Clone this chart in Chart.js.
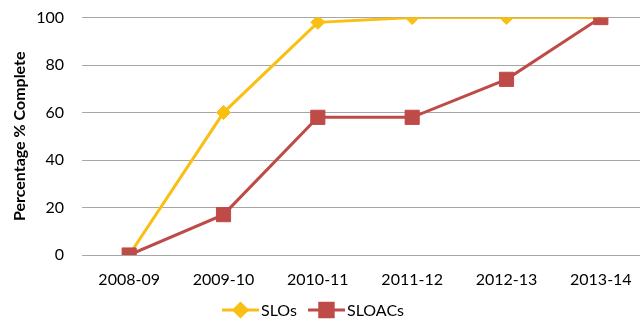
<!DOCTYPE html>
<html>
<head>
<meta charset="utf-8">
<script src="https://cdn.jsdelivr.net/npm/chart.js@4"></script>
<style>
  html, body { margin: 0; padding: 0; background: #fff; overflow: hidden; }
  #wrap { width: 659px; height: 339px; margin-top: -10px; }
</style>
</head>
<body>
<div id="wrap"><canvas id="c" width="659" height="339"></canvas></div>
<script>
// Academic years on the category axis
const years = ['2008-09', '2009-10', '2010-11', '2011-12', '2012-13', '2013-14'];
// Percentage complete per year
const sloValues = [0, 60, 98, 100, 100, 100];
const sloacValues = [0, 17, 58, 58, 74, 100];
// Value axis ticks
const yTicks = [0, 20, 40, 60, 80, 100];

const FONT = "Lato, 'Open Sans', 'Liberation Sans', sans-serif";
const GOLD = '#F9BF12';
const RED = '#BE4B48';

// Legend drawn as line-with-marker samples under the axis
const lineLegend = {
  id: 'lineLegend',
  afterDraw(chart) {
    const ctx = chart.ctx;
    const items = [chart.data.datasets[0], chart.data.datasets[1]];
    const y = chart.height - 19;
    ctx.save();
    ctx.font = '16px ' + FONT;
    ctx.textBaseline = 'middle';
    const sampleW = 37, gap = 2, between = 11;
    const widths = items.map(d => sampleW + gap + ctx.measureText(d.label).width);
    const total = widths.reduce((a, b) => a + b, 0) + between;
    let x = 313 - total / 2;
    items.forEach((d, i) => {
      ctx.strokeStyle = d.borderColor;
      ctx.lineWidth = 3;
      ctx.beginPath();
      ctx.moveTo(x, y);
      ctx.lineTo(x + sampleW, y);
      ctx.stroke();
      ctx.fillStyle = d.backgroundColor;
      ctx.strokeStyle = d.borderColor;
      Chart.helpers.drawPoint(ctx, {
        pointStyle: d.pointStyle,
        radius: d.pointStyle === 'rect' ? 9.5 : 6.5,
        borderWidth: 1
      }, x + sampleW / 2, y);
      ctx.fillStyle = '#000';
      ctx.fillText(d.label, x + sampleW + gap, y + 1);
      x += widths[i] + between;
    });
    ctx.restore();
  }
};

new Chart(document.getElementById('c'), {
  type: 'line',
  data: {
    labels: years,
    datasets: [
      {
        label: 'SLOs',
        data: sloValues,
        borderColor: GOLD,
        backgroundColor: GOLD,
        borderWidth: 3,
        pointStyle: 'rectRot',
        pointRadius: 7,
        pointBorderWidth: 1,
        tension: 0,
        order: 1
      },
      {
        label: 'SLOACs',
        data: sloacValues,
        borderColor: RED,
        backgroundColor: RED,
        borderWidth: 3,
        pointStyle: 'rect',
        pointRadius: 10,
        pointBorderWidth: 1,
        tension: 0,
        order: 0
      }
    ]
  },
  options: {
    responsive: false,
    animation: false,
    layout: { padding: { top: 0, right: 0, bottom: 0, left: 0 } },
    plugins: {
      legend: { display: false },
      tooltip: { enabled: false }
    },
    scales: {
      x: {
        offset: true,
        grid: { display: false, drawTicks: false },
        border: { display: false },
        ticks: { color: '#000', font: { family: FONT, size: 16 }, padding: 15, maxRotation: 0 },
        afterFit(scale) {
          scale.height = 74;
          scale.paddingLeft = 0;
          scale.paddingRight = 0;
        }
      },
      y: {
        min: 0,
        max: 100,
        afterBuildTicks(scale) { scale.ticks = yTicks.map(v => ({ value: v })); },
        grid: { color: '#A6A6A6', lineWidth: 1, drawTicks: false },
        border: { display: false },
        ticks: { color: '#000', font: { family: FONT, size: 16 }, padding: 18 },
        title: {
          display: true,
          text: 'Percentage % Complete',
          color: '#000',
          font: { family: FONT, size: 16, weight: 'bold' },
          padding: { top: 10, bottom: 0 }
        },
        afterFit(scale) { scale.width = 82; }
      }
    }
  },
  plugins: [lineLegend]
});
</script>
</body>
</html>
